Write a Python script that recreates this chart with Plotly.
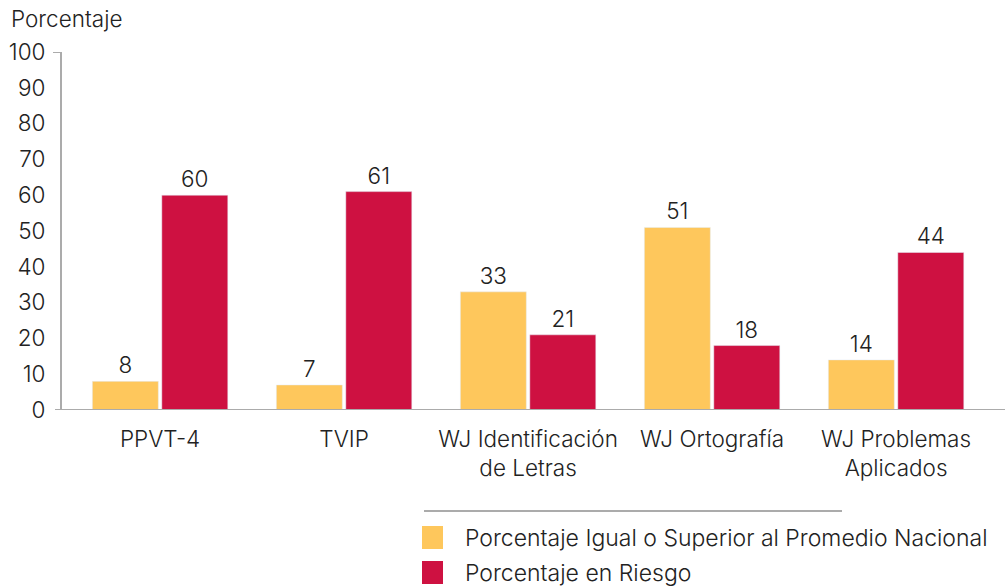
import plotly.graph_objects as go

categories = ["PPVT-4", "TVIP", "WJ Identificación<br>de Letras", "WJ Ortografía", "WJ Problemas<br>Aplicados"]
igual_superior = [8, 7, 33, 51, 14]
en_riesgo = [60, 61, 21, 18, 44]
series_names = ["Porcentaje Igual o Superior al Promedio Nacional", "Porcentaje en Riesgo"]
y_ticks = list(range(0, 101, 10))

FONT = dict(family="Inter, Liberation Sans, sans-serif", size=22.5, color="#222222", weight=300)
LEGEND_FONT = dict(FONT, size=23)
YELLOW = "#FEC75C"
RED = "#CE1141"
GREY = "#ABABAB"
colors = [YELLOW, RED]

fig = go.Figure()
for name, vals, col in zip(series_names, [igual_superior, en_riesgo], colors):
    fig.add_trace(go.Bar(x=list(range(len(categories))), y=vals, name=name, marker_color=col,
                         text=vals, textposition="outside", textfont=FONT, cliponaxis=False,
                         showlegend=False))

W, H = 1005, 588
L, R, T, B = 62, 0, 52, 178
PW, PH = W - L - R, H - T - B


def px(x):
    return (x - L) / PW


def py(y):
    return (H - B - y) / PH


fig.update_layout(
    width=W, height=H,
    margin=dict(l=L, r=R, t=T, b=B),
    paper_bgcolor="white", plot_bgcolor="white",
    font=FONT,
    barmode="group", bargap=0.245, bargroupgap=0.05,
    showlegend=False,
)
fig.update_yaxes(range=[0, 100], tickvals=y_ticks, showgrid=False, showline=True, linecolor=GREY,
                 linewidth=2, ticks="", ticklabelstandoff=10, tickfont=FONT, zeroline=False)
fig.update_xaxes(range=[-0.533, 4.592], tickvals=list(range(len(categories))), ticktext=categories,
                 showline=False, ticks="", tickfont=FONT, ticklabelstandoff=13, showgrid=False,
                 zeroline=False)

# x-axis baseline extending left of y axis, and small tick at top
fig.add_shape(type="line", xref="paper", yref="y", x0=px(55), x1=1, y0=0, y1=0,
              line=dict(color=GREY, width=2))
fig.add_shape(type="line", xref="paper", yref="y", x0=px(53), x1=0, y0=100, y1=100,
              line=dict(color=GREY, width=2))
# legend separator line
fig.add_shape(type="line", xref="paper", yref="paper", x0=px(424), x1=px(842),
              y0=py(511), y1=py(511), line=dict(color=GREY, width=2))

# legend
rows = [537.5, 572.5]
for name, col, yc in zip(series_names, colors, rows):
    fig.add_shape(type="rect", xref="paper", yref="paper", x0=px(422), x1=px(443),
                  y0=py(yc - 11.5), y1=py(yc + 11.5), fillcolor=col, line=dict(width=0))
    fig.add_annotation(text=name, xref="paper", yref="paper", x=px(463), y=py(yc),
                       xanchor="left", yanchor="middle", showarrow=False, font=LEGEND_FONT)

fig.add_annotation(text="Porcentaje", xref="paper", yref="paper", x=px(9),
                   y=py(18), xanchor="left", yanchor="middle", showarrow=False, font=FONT)

fig.write_html("out.html", config={"displayModeBar": False},
               post_script="document.body.style.margin='0';")
